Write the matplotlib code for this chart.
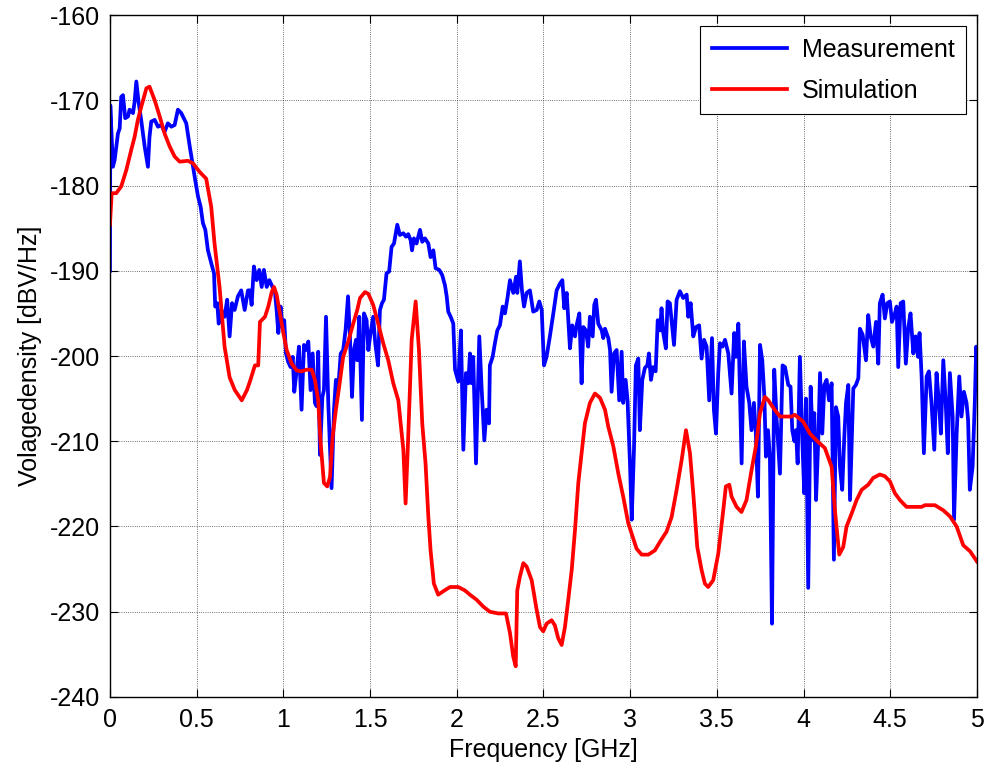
import matplotlib
matplotlib.use("Agg")
import matplotlib.pyplot as plt
import numpy as np

meas_f = [
    0.0, 0.002, 0.017, 0.027, 0.046, 0.056, 0.065, 0.075, 0.088, 0.104,
    0.113, 0.133, 0.142, 0.152, 0.165, 0.18, 0.2, 0.219, 0.228, 0.238,
    0.258, 0.277, 0.296, 0.315, 0.334, 0.354, 0.373, 0.392, 0.411, 0.44,
    0.46, 0.479, 0.492, 0.508, 0.523, 0.536, 0.55, 0.565, 0.584, 0.6,
    0.607, 0.619, 0.627, 0.642, 0.661, 0.676, 0.69, 0.704, 0.719, 0.738,
    0.757, 0.777, 0.796, 0.807, 0.817, 0.83, 0.846, 0.861, 0.875, 0.888,
    0.904, 0.919, 0.933, 0.952, 0.961, 0.971, 0.984, 0.994, 1.005, 1.015,
    1.028, 1.042, 1.054, 1.063, 1.077, 1.09, 1.105, 1.119, 1.13, 1.144,
    1.157, 1.169, 1.182, 1.192, 1.201, 1.211, 1.225, 1.234, 1.246, 1.259,
    1.278, 1.292, 1.303, 1.317, 1.331, 1.345, 1.359, 1.373, 1.384, 1.396,
    1.407, 1.419, 1.426, 1.438, 1.453, 1.465, 1.48, 1.49, 1.503, 1.518,
    1.53, 1.546, 1.557, 1.569, 1.58, 1.595, 1.61, 1.624, 1.638, 1.657,
    1.672, 1.692, 1.707, 1.72, 1.734, 1.742, 1.753, 1.768, 1.788, 1.801,
    1.817, 1.836, 1.849, 1.865, 1.878, 1.899, 1.916, 1.932, 1.942, 1.951,
    1.965, 1.98, 1.99, 2.009, 2.024, 2.038, 2.053, 2.067, 2.076, 2.086,
    2.095, 2.111, 2.13, 2.144, 2.159, 2.172, 2.186, 2.191, 2.207, 2.22,
    2.234, 2.249, 2.265, 2.278, 2.291, 2.307, 2.326, 2.342, 2.349, 2.364,
    2.376, 2.388, 2.403, 2.422, 2.441, 2.461, 2.476, 2.49, 2.503, 2.518,
    2.537, 2.557, 2.576, 2.595, 2.609, 2.62, 2.634, 2.653, 2.666, 2.682,
    2.691, 2.707, 2.72, 2.73, 2.745, 2.758, 2.768, 2.784, 2.793, 2.803,
    2.816, 2.836, 2.845, 2.855, 2.874, 2.884, 2.893, 2.907, 2.922, 2.937,
    2.951, 2.96, 2.974, 2.985, 2.999, 3.009, 3.022, 3.033, 3.047, 3.056,
    3.07, 3.085, 3.099, 3.108, 3.12, 3.133, 3.147, 3.159, 3.172, 3.181,
    3.191, 3.206, 3.216, 3.229, 3.253, 3.268, 3.287, 3.306, 3.326, 3.335,
    3.349, 3.364, 3.38, 3.398, 3.412, 3.426, 3.441, 3.456, 3.472, 3.483,
    3.495, 3.508, 3.518, 3.533, 3.547, 3.566, 3.585, 3.6, 3.61, 3.624,
    3.633, 3.643, 3.656, 3.671, 3.687, 3.7, 3.714, 3.725, 3.737, 3.749,
    3.762, 3.774, 3.783, 3.795, 3.806, 3.818, 3.831, 3.845, 3.864, 3.879,
    3.893, 3.912, 3.925, 3.935, 3.947, 3.956, 3.966, 3.979, 3.993, 4.004,
    4.014, 4.027, 4.041, 4.053, 4.062, 4.072, 4.085, 4.095, 4.108, 4.12,
    4.133, 4.147, 4.162, 4.175, 4.187, 4.2, 4.21, 4.223, 4.235, 4.245,
    4.258, 4.268, 4.287, 4.302, 4.316, 4.325, 4.341, 4.36, 4.373, 4.387,
    4.402, 4.418, 4.431, 4.44, 4.456, 4.469, 4.483, 4.498, 4.51, 4.527,
    4.537, 4.546, 4.56, 4.575, 4.59, 4.604, 4.617, 4.633, 4.646, 4.66,
    4.669, 4.681, 4.694, 4.71, 4.723, 4.738, 4.754, 4.767, 4.781, 4.792,
    4.806, 4.82, 4.832, 4.844, 4.86, 4.868, 4.883, 4.898, 4.911, 4.925,
    4.94, 4.949, 4.959, 4.975, 4.988, 4.996, 5.0,
]
meas_db = [
    -190.0, -170.6, -177.8, -177.0, -173.9, -173.3, -169.6, -169.4, -172.1, -171.9,
    -171.1, -171.5, -170.2, -167.8, -170.2, -172.3, -175.4, -177.8, -174.3, -172.5,
    -172.3, -173.1, -172.9, -173.7, -172.7, -173.1, -172.9, -171.1, -171.5, -172.7,
    -175.4, -177.8, -179.4, -181.3, -182.5, -184.4, -185.2, -187.6, -189.1, -190.3,
    -194.2, -193.8, -196.2, -194.6, -195.4, -193.4, -197.7, -193.8, -194.6, -193.0,
    -192.3, -194.6, -192.3, -192.3, -194.0, -189.5, -191.1, -189.9, -191.9, -189.9,
    -191.9, -191.1, -191.7, -192.6, -194.6, -197.3, -194.2, -196.6, -195.8, -199.7,
    -200.7, -201.3, -200.1, -204.2, -201.6, -198.9, -206.3, -198.7, -199.3, -198.3,
    -204.0, -199.7, -205.5, -205.9, -199.5, -211.6, -204.8, -204.0, -195.4, -205.5,
    -215.5, -206.3, -202.8, -203.6, -199.7, -199.3, -196.9, -193.0, -197.7, -204.8,
    -199.3, -198.1, -200.5, -195.4, -207.5, -195.0, -195.8, -199.3, -197.3, -195.4,
    -198.5, -201.1, -194.6, -193.8, -193.4, -190.3, -190.1, -187.2, -186.8, -184.6,
    -185.8, -185.6, -186.0, -185.7, -186.4, -187.6, -186.2, -186.8, -185.2, -186.6,
    -186.2, -186.8, -188.4, -187.6, -189.7, -189.9, -190.5, -191.7, -193.0, -194.8,
    -195.4, -196.2, -201.6, -203.0, -197.0, -211.0, -202.0, -203.2, -199.7, -203.2,
    -200.1, -212.6, -197.7, -204.0, -209.9, -206.3, -207.9, -201.1, -200.1, -198.5,
    -197.0, -196.4, -194.2, -195.0, -193.4, -191.1, -192.6, -190.7, -192.6, -188.9,
    -192.3, -194.2, -192.6, -192.3, -194.8, -194.6, -193.6, -194.6, -201.1, -200.1,
    -197.7, -195.0, -192.3, -191.5, -191.1, -194.4, -192.6, -199.1, -196.4, -197.7,
    -196.4, -195.0, -203.2, -196.6, -197.0, -198.9, -195.4, -197.7, -194.0, -193.4,
    -196.2, -197.0, -197.9, -196.8, -197.9, -199.3, -204.2, -199.7, -199.3, -205.2,
    -199.5, -205.5, -202.8, -205.2, -212.6, -219.2, -211.0, -201.1, -200.3, -208.7,
    -202.8, -201.4, -201.1, -199.7, -202.8, -201.3, -201.8, -195.8, -197.0, -194.4,
    -197.3, -199.1, -193.6, -193.8, -198.7, -193.4, -192.4, -193.2, -192.8, -195.4,
    -193.8, -197.7, -196.6, -196.4, -200.3, -198.1, -198.9, -205.2, -197.9, -206.3,
    -209.1, -202.0, -198.5, -198.9, -198.1, -199.7, -204.4, -197.3, -200.1, -196.2,
    -204.0, -212.6, -198.3, -203.6, -205.5, -208.7, -205.5, -209.1, -216.5, -198.7,
    -200.5, -204.8, -211.8, -208.7, -211.8, -231.4, -201.6, -207.5, -213.8, -201.1,
    -201.3, -203.4, -203.6, -208.7, -210.0, -208.7, -212.6, -200.1, -209.9, -216.1,
    -205.0, -227.2, -203.6, -209.9, -206.7, -216.9, -209.9, -202.0, -209.1, -203.4,
    -202.8, -205.2, -203.2, -223.9, -206.0, -207.1, -213.0, -215.7, -209.5, -205.5,
    -203.4, -216.9, -203.8, -203.4, -202.6, -196.8, -197.5, -200.5, -195.2, -197.7,
    -198.9, -196.0, -200.9, -193.8, -192.8, -195.6, -193.8, -193.6, -196.0, -195.0,
    -194.2, -201.3, -193.8, -193.6, -200.9, -196.6, -195.0, -199.7, -197.7, -200.1,
    -197.3, -202.4, -211.4, -202.4, -201.8, -205.5, -211.0, -202.0, -205.5, -209.1,
    -200.5, -205.5, -211.4, -202.0, -207.1, -219.2, -209.1, -202.4, -207.1, -204.2,
    -205.5, -207.5, -215.7, -213.0, -205.2, -198.9, -203.0,
]

# Simulation trace (GHz, dBV/Hz)
sim_f = [
    0.0, 0.01, 0.036, 0.065, 0.094, 0.123, 0.142, 0.161, 0.18, 0.21,
    0.228, 0.258, 0.287, 0.315, 0.344, 0.373, 0.402, 0.45, 0.479, 0.517,
    0.555, 0.584, 0.603, 0.632, 0.661, 0.69, 0.72, 0.76, 0.79, 0.807,
    0.836, 0.855, 0.865, 0.894, 0.913, 0.933, 0.946, 0.961, 0.98, 1.0,
    1.019, 1.048, 1.077, 1.105, 1.134, 1.163, 1.182, 1.201, 1.215, 1.234,
    1.253, 1.269, 1.284, 1.303, 1.322, 1.345, 1.374, 1.403, 1.426, 1.442,
    1.471, 1.49, 1.518, 1.547, 1.576, 1.605, 1.634, 1.663, 1.692, 1.705,
    1.72, 1.74, 1.763, 1.782, 1.801, 1.82, 1.836, 1.849, 1.868, 1.893,
    1.922, 1.961, 2.009, 2.047, 2.076, 2.115, 2.153, 2.191, 2.239, 2.284,
    2.307, 2.326, 2.34, 2.349, 2.364, 2.384, 2.403, 2.432, 2.461, 2.48,
    2.499, 2.518, 2.547, 2.566, 2.585, 2.605, 2.624, 2.643, 2.663, 2.682,
    2.701, 2.72, 2.739, 2.768, 2.797, 2.826, 2.855, 2.874, 2.903, 2.932,
    2.96, 2.989, 3.018, 3.037, 3.066, 3.105, 3.143, 3.172, 3.21, 3.239,
    3.268, 3.297, 3.322, 3.345, 3.364, 3.387, 3.412, 3.431, 3.45, 3.479,
    3.508, 3.537, 3.552, 3.572, 3.585, 3.614, 3.642, 3.671, 3.7, 3.725,
    3.749, 3.777, 3.797, 3.826, 3.864, 3.931, 3.95, 3.998, 4.037, 4.075,
    4.123, 4.162, 4.181, 4.206, 4.229, 4.248, 4.277, 4.306, 4.335, 4.373,
    4.402, 4.44, 4.469, 4.498, 4.527, 4.556, 4.594, 4.681, 4.7, 4.758,
    4.806, 4.844, 4.883, 4.921, 4.96, 5.0,
]
sim_db = [
    -184.6, -180.9, -180.9, -180.1, -178.2, -175.8, -174.3, -172.3, -170.8, -168.6,
    -168.4, -170.0, -171.9, -173.9, -175.4, -176.6, -177.2, -177.1, -177.4, -178.4,
    -179.2, -182.5, -186.8, -191.9, -198.9, -202.5, -204.0, -205.2, -204.0, -203.0,
    -201.1, -201.1, -196.0, -195.4, -194.2, -192.5, -191.9, -192.8, -195.0, -197.3,
    -199.3, -200.9, -201.7, -201.8, -201.6, -201.6, -202.8, -205.2, -210.2, -214.9,
    -215.3, -214.2, -209.5, -206.3, -203.6, -200.1, -198.3, -196.2, -194.6, -193.2,
    -192.5, -192.7, -194.0, -196.2, -198.5, -200.5, -203.2, -205.2, -211.0, -217.3,
    -209.5, -198.1, -193.6, -199.3, -207.9, -212.6, -218.8, -222.8, -226.7, -228.0,
    -227.6, -227.1, -227.1, -227.5, -228.0, -228.6, -229.4, -230.0, -230.2, -230.2,
    -232.5, -235.3, -236.4, -227.5, -225.9, -224.3, -224.7, -226.3, -229.8, -231.8,
    -232.3, -231.4, -231.0, -231.6, -233.1, -233.9, -231.8, -228.6, -225.1, -220.4,
    -214.9, -211.4, -207.9, -205.5, -204.4, -204.9, -206.3, -208.3, -210.6, -213.8,
    -216.5, -219.6, -221.4, -222.6, -223.3, -223.3, -222.8, -221.8, -220.6, -218.9,
    -215.7, -212.2, -208.7, -211.4, -216.1, -222.4, -225.1, -226.7, -227.1, -226.3,
    -223.2, -218.1, -215.3, -215.1, -216.5, -217.7, -218.3, -216.9, -213.4, -210.6,
    -206.7, -204.8, -205.2, -206.1, -207.1, -207.1, -206.9, -207.7, -209.1, -209.9,
    -210.8, -213.0, -218.1, -223.3, -222.4, -220.0, -218.5, -216.9, -215.7, -215.1,
    -214.3, -213.9, -214.1, -214.7, -216.1, -216.9, -217.7, -217.7, -217.5, -217.5,
    -218.1, -218.8, -220.0, -222.2, -222.9, -224.1,
]

plt.rcParams["font.family"] = ["Liberation Sans", "DejaVu Sans"]
plt.rcParams["font.size"] = 18
plt.rcParams["axes.unicode_minus"] = False

fig = plt.figure(figsize=(9.88, 7.71), dpi=100)
ax = fig.add_axes([0.1113, 0.096, 0.8775, 0.8845])

ax.plot(meas_f, meas_db, color="#0000ff", linewidth=2.7, label="Measurement")
ax.plot(sim_f, sim_db, color="#ff0000", linewidth=2.7, label="Simulation")

ax.set_xlim(0, 5)
ax.set_ylim(-240, -160)
ax.set_xticks(np.arange(0, 5.01, 0.5))
ax.set_xticklabels(["0", "0.5", "1", "1.5", "2", "2.5", "3", "3.5", "4", "4.5", "5"])
ax.set_yticks(np.arange(-240, -159, 10))
ax.tick_params(direction="in", length=6, width=0.8, top=True, right=True, labelsize=18)
ax.tick_params(axis="x", pad=8)
ax.tick_params(axis="y", pad=7)
ax.grid(True, color="black", linestyle=":", linewidth=0.6, alpha=0.75)
for sp in ax.spines.values():
    sp.set_linewidth(1.0)

ax.set_xlabel("Frequency [GHz]", fontsize=18, labelpad=4)
ax.set_ylabel("Volagedensity [dBV/Hz]", fontsize=18, labelpad=6)

leg = ax.legend(loc="upper right", fancybox=False, framealpha=1, edgecolor="black",
                handlelength=3.0, handletextpad=0.6, fontsize=18, borderaxespad=0.45,
                borderpad=0.45, labelspacing=0.7)
leg.get_frame().set_linewidth(0.8)

fig.savefig("out.png", dpi=100, facecolor="white")
